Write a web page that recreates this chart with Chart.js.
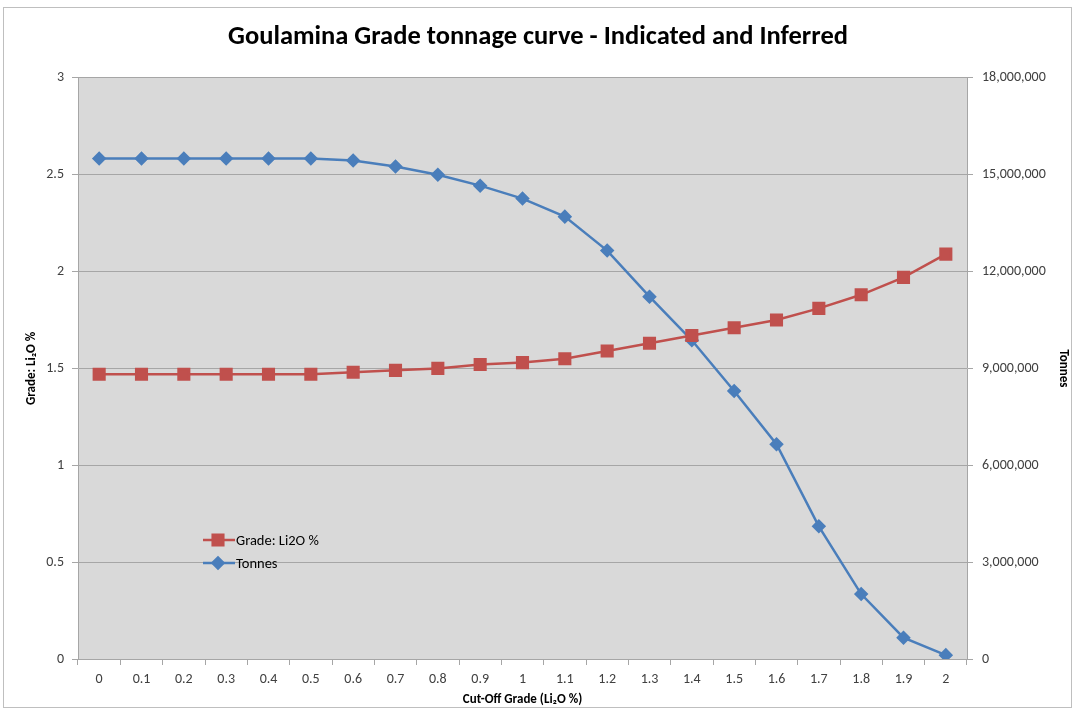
<!DOCTYPE html>
<html>
<head>
<meta charset="utf-8">
<title>Goulamina Grade tonnage curve</title>
<script src="https://cdn.jsdelivr.net/npm/chart.js@4/dist/chart.umd.min.js"></script>
<style>
  html, body { margin: 0; padding: 0; background: #fff; }
  #wrap { width: 1076px; height: 711px; position: relative; }
</style>
</head>
<body>
<div id="wrap"><canvas id="grafico" width="1076" height="711"></canvas></div>
<script>
// Dados
const cutoffs = ["0","0.1","0.2","0.3","0.4","0.5","0.6","0.7","0.8","0.9","1","1.1","1.2","1.3","1.4","1.5","1.6","1.7","1.8","1.9","2"];
const grade = [1.47,1.47,1.47,1.47,1.47,1.47,1.48,1.49,1.50,1.52,1.53,1.55,1.59,1.63,1.67,1.71,1.75,1.81,1.88,1.97,2.09];
const tonnes = [15500000,15500000,15500000,15500000,15500000,15500000,15440000,15250000,15000000,14660000,14260000,13700000,12650000,11220000,9870000,8300000,6650000,4110000,2010000,660000,120000];
const gradeTicks = [0,0.5,1,1.5,2,2.5,3];
const tonnesTicks = [0,3000000,6000000,9000000,12000000,15000000,18000000];

const FONTE = "Calibri, Carlito, 'Liberation Sans Narrow', 'Open Sans', sans-serif";
const CINZA = "#a6a6a6";
const TEXTO = "#404040";

// Moldura e fundo
const fundo = {
  id: "fundo",
  beforeDraw(chart){
    const c = chart.ctx;
    c.save();
    c.fillStyle = "#fff";
    c.fillRect(0,0,chart.width,chart.height);
    c.strokeStyle = "#bfbfbf"; c.lineWidth = 1;
    c.strokeRect(3.5,7.5,1068,700);
    const a = chart.chartArea;
    c.fillStyle = "#d9d9d9";
    c.fillRect(a.left,a.top,a.right-a.left,a.bottom-a.top);
    c.restore();
  }
};

// Legenda dentro da área
const legenda = {
  id: "legenda",
  afterDatasetsDraw(chart){
    const c = chart.ctx;
    const pos = [540, 563];
    c.save();
    chart.data.datasets.forEach((ds,i)=>{
      const y = pos[i];
      c.strokeStyle = ds.borderColor; c.lineWidth = ds.borderWidth;
      c.beginPath(); c.moveTo(203,y); c.lineTo(235,y); c.stroke();
      c.fillStyle = ds.pointBackgroundColor; c.strokeStyle = ds.pointBorderColor;
      Chart.helpers.drawPoint(c, {pointStyle: ds.pointStyle, radius: ds.pointRadius, rotation: 0, borderWidth: 1}, 218, y);
      c.fillStyle = "#000";
      c.font = "14.5px " + FONTE;
      c.textBaseline = "middle";
      c.fillText(ds.label, 236, y + 1);
    });
    c.restore();
  }
};

new Chart(document.getElementById("grafico"), {
  type: "line",
  data: {
    labels: cutoffs,
    datasets: [
      { label: "Grade: Li2O %", data: grade, yAxisID: "y",
        borderColor: "#c0504d", borderWidth: 2.5, pointStyle: "rect", pointRadius: 7.5,
        pointBackgroundColor: "#c0504d", pointBorderColor: "#c0504d", tension: 0 },
      { label: "Tonnes", data: tonnes, yAxisID: "y1",
        borderColor: "#4a7ebb", borderWidth: 2.5, pointStyle: "rectRot", pointRadius: 5.5,
        pointBackgroundColor: "#4a7ebb", pointBorderColor: "#4a7ebb", tension: 0 }
    ]
  },
  options: {
    responsive: false,
    animation: false,
    layout: { padding: 0 },
    plugins: {
      legend: { display: false },
      tooltip: { enabled: false },
      title: { display: true, text: "Goulamina Grade tonnage curve - Indicated and Inferred",
        color: "#000", font: { family: FONTE, size: 26.5, weight: "bold", lineHeight: 1.2 },
        padding: { top: 21, bottom: 25 } }
    },
    scales: {
      x: {
        offset: true,
        grid: { offset: true, drawOnChartArea: false, drawTicks: true, tickLength: 6, color: CINZA },
        border: { display: true, color: CINZA },
        ticks: { color: TEXTO, font: { family: FONTE, size: 14 }, padding: 6, maxRotation: 0, autoSkip: false },
        title: { display: true, text: "Cut-Off Grade (Li\u2082O %)", color: "#000",
          font: { family: FONTE, size: 13, weight: "bold" }, padding: { top: 4, bottom: 3 } },
        afterFit(s){ s.height = 711 - 659; }
      },
      y: {
        position: "left", min: 0, max: 3,
        afterBuildTicks(s){ s.ticks = gradeTicks.map(v=>({value:v})); },
        grid: { color: CINZA, tickLength: 6 },
        border: { display: true, color: CINZA },
        ticks: { color: TEXTO, font: { family: FONTE, size: 14 }, padding: 8, callback: v => String(v) },
        title: { display: true, text: "Grade: Li\u2082O %", color: "#000",
          font: { family: FONTE, size: 13, weight: "bold" }, padding: { top: 24, bottom: 0 } },
        afterFit(s){ s.width = 78; }
      },
      y1: {
        position: "right", min: 0, max: 18000000,
        afterBuildTicks(s){ s.ticks = tonnesTicks.map(v=>({value:v})); },
        grid: { drawOnChartArea: false, color: CINZA, tickLength: 6 },
        border: { display: true, color: CINZA },
        ticks: { color: TEXTO, font: { family: FONTE, size: 14 }, padding: 9,
          callback: v => Number(v).toLocaleString("en-US") },
        title: { display: true, text: "Tonnes", color: "#000",
          font: { family: FONTE, size: 13, weight: "bold" }, padding: { top: 5, bottom: 0 } },
        afterFit(s){ s.width = 1076 - 967; }
      }
    }
  },
  plugins: [fundo, legenda]
});
</script>
</body>
</html>
